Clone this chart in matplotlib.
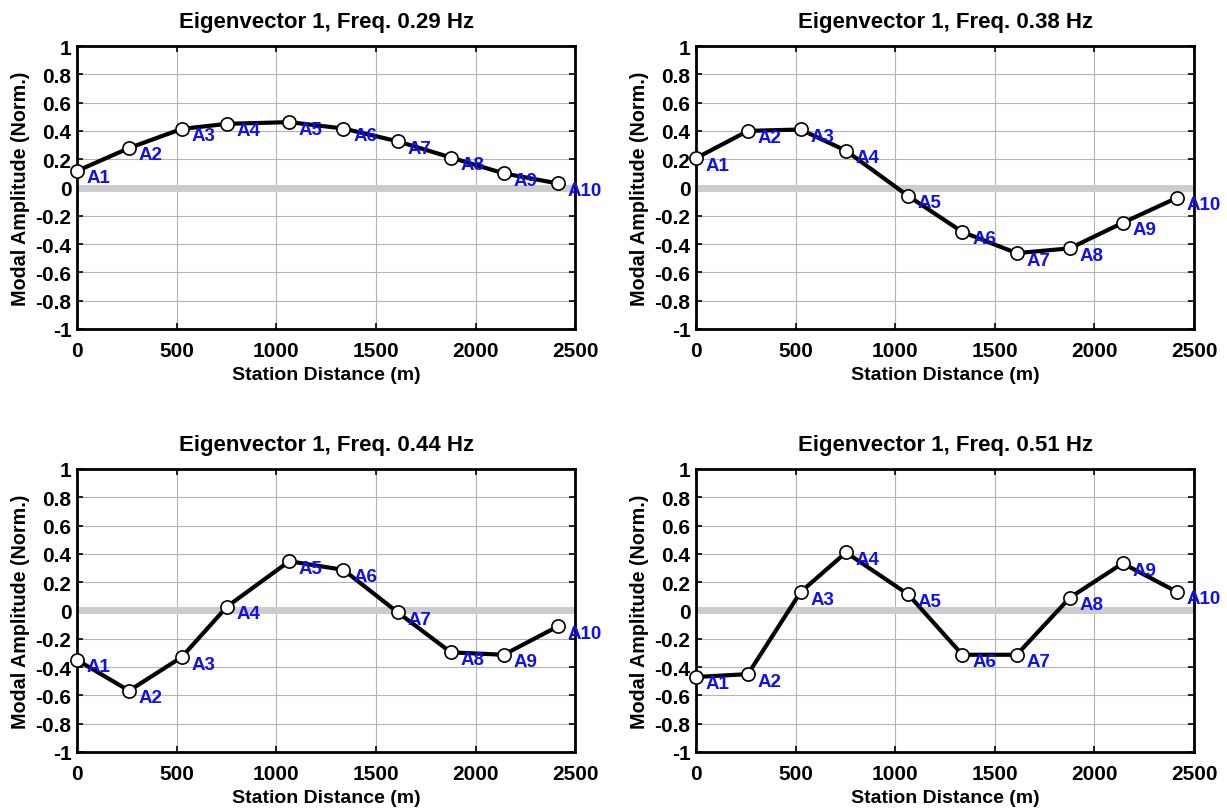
import numpy as np
import matplotlib
matplotlib.use("Agg")
import matplotlib.pyplot as plt

plt.rcParams["font.family"] = ["Liberation Sans", "DejaVu Sans"]
plt.rcParams["font.weight"] = "bold"

# station distances (m) and labels
stations = ["A1", "A2", "A3", "A4", "A5", "A6", "A7", "A8", "A9", "A10"]
distance = [0, 261, 525, 753, 1065, 1337, 1610, 1876, 2141, 2412]

# modal amplitudes per frequency
freqs = ["0.29", "0.38", "0.44", "0.51"]
amp_029 = [0.117, 0.279, 0.414, 0.45, 0.462, 0.417, 0.326, 0.212, 0.10, 0.029]
amp_038 = [0.207, 0.40, 0.41, 0.26, -0.06, -0.314, -0.464, -0.43, -0.25, -0.074]
amp_044 = [-0.35, -0.567, -0.33, 0.028, 0.348, 0.287, -0.014, -0.296, -0.313, -0.113]
amp_051 = [-0.47, -0.45, 0.13, 0.41, 0.114, -0.313, -0.313, 0.09, 0.333, 0.133]
amplitudes = [amp_029, amp_038, amp_044, amp_051]

yticks = [1, 0.8, 0.6, 0.4, 0.2, 0, -0.2, -0.4, -0.6, -0.8, -1]
ytick_labels = ["1", "0.8", "0.6", "0.4", "0.2", "0", "-0.2", "-0.4", "-0.6", "-0.8", "-1"]
xticks = [0, 500, 1000, 1500, 2000, 2500]

fig = plt.figure(figsize=(12.27, 8.12), dpi=100)

positions = [
    (0.0628, 0.5936, 0.406, 0.3485),
    (0.5672, 0.5936, 0.406, 0.3485),
    (0.0628, 0.0727, 0.406, 0.3485),
    (0.5672, 0.0727, 0.406, 0.3485),
]

for pos, f, amp in zip(positions, freqs, amplitudes):
    ax = fig.add_axes(pos)
    ax.set_xlim(0, 2500)
    ax.set_ylim(-1, 1)
    ax.set_xticks(xticks)
    ax.set_yticks(yticks)
    ax.set_yticklabels(ytick_labels)
    ax.grid(True, color="#b4b4b4", linewidth=0.8)
    ax.set_axisbelow(True)
    ax.axhline(0, color="#cccccc", linewidth=5, zorder=1.5)
    ax.plot(distance, amp, color="black", linewidth=3, marker="o", markersize=9.5,
            markerfacecolor="white", markeredgecolor="black", markeredgewidth=1.2,
            zorder=3, clip_on=False)
    for name, x, y in zip(stations, distance, amp):
        ax.annotate(name, (x, y), xytext=(7, -5), textcoords="offset points",
                    ha="left", va="center", color="#1010ee", fontsize=13.5,
                    fontweight="bold", zorder=4, annotation_clip=False)
    ax.tick_params(direction="in", top=True, right=True, length=4, width=1.2,
                   labelsize=15)
    ax.tick_params(axis="x", pad=9)
    ax.tick_params(axis="y", pad=4)
    for lab in ax.get_xticklabels() + ax.get_yticklabels():
        lab.set_fontweight("bold")
    for s in ax.spines.values():
        s.set_linewidth(2)
    ax.set_xlabel("Station Distance (m)", fontsize=14, fontweight="bold", labelpad=4)
    ax.set_ylabel("Modal Amplitude (Norm.)", fontsize=14.2, fontweight="bold", labelpad=4)
    ax.set_title(f"Eigenvector 1, Freq. {f} Hz", fontsize=16, fontweight="bold", pad=14)

fig.savefig("out.png", dpi=100, facecolor="white")
